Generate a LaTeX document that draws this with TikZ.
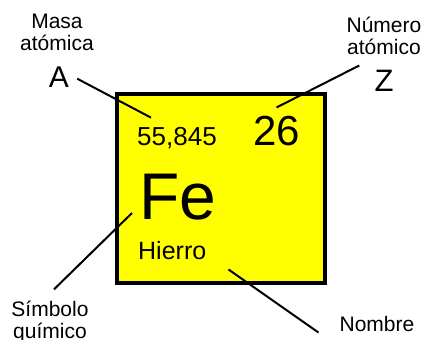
\documentclass[tikz,border=0pt]{standalone}
\usepackage{fontspec}
\setmainfont{Liberation Sans}
\usepackage{tikz}
\usetikzlibrary{positioning}
\definecolor{elemyellow}{HTML}{FFFF00}

\begin{document}
\begin{tikzpicture}[x=1pt, y=-1pt,
  lbl/.style={align=center, inner sep=0pt, font=\fontsize{21}{22}\selectfont},
  txt/.style={inner sep=0pt, anchor=base west},
  pointer/.style={line width=2pt}]
  \useasboundingbox (0,0) rectangle (424,340);

  \node[draw, line width=4pt, fill=elemyellow, minimum width=208pt, minimum height=189pt, inner sep=0pt] (elem) at (221,188.5) {};

  \node[txt, font=\fontsize{26}{26}\selectfont] (mass) at (137,145) {55,845};
  \node[txt, font=\fontsize{42}{42}\selectfont] (znum) at (253,145) {26};
  \node[txt, font=\fontsize{66}{66}\selectfont] (sym) at (139,219) {Fe};
  \node[txt, font=\fontsize{25}{25}\selectfont] (name) at (138,259) {Hierro};

  \node[lbl, anchor=base] (masa) at (57,50) {Masa\\atómica};
  \node[lbl, anchor=base, font=\fontsize{30}{30}\selectfont] (letA) at (59,87) {A};
  \node[lbl, anchor=base] (numero) at (384,55) {Número\\atómico};
  \node[lbl, anchor=base, font=\fontsize{31}{31}\selectfont] (letZ) at (384,91) {Z};
  \node[lbl, anchor=base] (simbolo) at (50,338) {Símbolo\\químico};
  \node[lbl, anchor=base] (nombre) at (377,331) {Nombre};

  \draw[pointer] ([xshift=8pt,yshift=-2pt]letA.east) -- ([xshift=14pt,yshift=9pt]mass.north west);
  \draw[pointer] ([xshift=-15pt,yshift=4pt]letZ.north west) -- ([yshift=8pt]znum.north);
  \draw[pointer] ([xshift=-7pt,yshift=6pt]sym.base west) -- ([xshift=4pt,yshift=11pt]simbolo.north);
  \draw[pointer] ([xshift=22pt,yshift=-10pt]name.south east) -- ([xshift=-21pt,yshift=-9pt]nombre.west);
\end{tikzpicture}
\end{document}
